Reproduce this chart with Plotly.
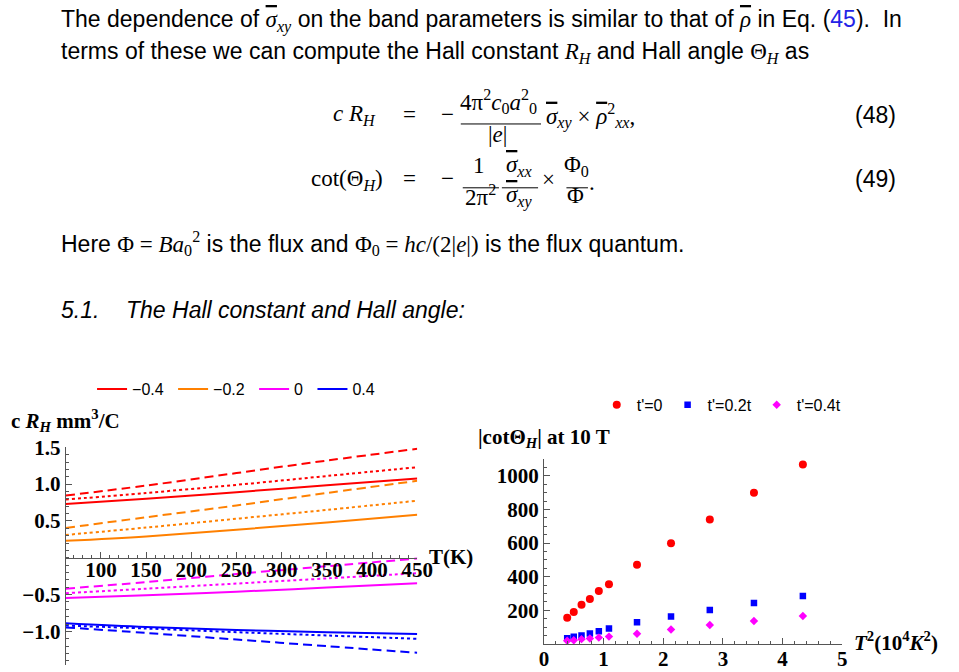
import plotly.graph_objects as go

W, H = 959, 672

# ---------------- data: left panel (c R_H vs T) ----------------
T = [61, 150, 250, 350, 450]
band_labels = ["−0.4", "−0.2", "0", "0.4"]
band_colors = ["#FF0000", "#FF8000", "#FF00FF", "#0000FF"]

red_solid = [0.73, 0.80, 0.89, 0.985, 1.075]
red_dotted = [0.79, 0.88, 0.99, 1.11, 1.23]
red_dashed = [0.845, 0.98, 1.15, 1.32, 1.48]
orange_solid = [0.23, 0.29, 0.38, 0.48, 0.585]
orange_dotted = [0.31, 0.41, 0.53, 0.65, 0.775]
orange_dashed = [0.405, 0.55, 0.71, 0.88, 1.045]
magenta_solid = [-0.545, -0.51, -0.46, -0.405, -0.345]
magenta_dotted = [-0.48, -0.42, -0.35, -0.28, -0.21]
magenta_dashed = [-0.42, -0.33, -0.22, -0.115, -0.01]
blue_solid = [-0.89, -0.94, -0.98, -1.01, -1.035]
blue_dotted = [-0.92, -0.96, -1.01, -1.055, -1.10]
blue_dashed = [-0.945, -1.02, -1.11, -1.20, -1.29]

left_xticks = [100, 150, 200, 250, 300, 350, 400, 450]
left_yticks = [-1.0, -0.5, 0.5, 1.0, 1.5]
left_yticktext = ["−1.0", "−0.5", "0.5", "1.0", "1.5"]

# ---------------- data: right panel (|cot Theta_H| vs T^2) ----------------
T2 = [0.39, 0.50, 0.63, 0.77, 0.92, 1.09, 1.56, 2.13, 2.78, 3.52, 4.34]
cot_t0 = [156, 191, 234, 267, 316, 355, 472, 600, 741, 899, 1068]
cot_t02 = [34, 43, 51, 62, 76, 92, 129, 164, 203, 244, 285]
cot_t04 = [19, 22, 29, 33, 38, 44, 61, 86, 113, 137, 166]
right_labels = ["t'=0", "t'=0.2t", "t'=0.4t"]
right_xticks = [0, 1, 2, 3, 4, 5]
right_yticks = [200, 400, 600, 800, 1000]


def px(x):
    return x / W


def py(y):
    return 1 - y / H


NB = "\u00a0"
fig = go.Figure()

groups = [
    (red_solid, red_dotted, red_dashed),
    (orange_solid, orange_dotted, orange_dashed),
    (magenta_solid, magenta_dotted, magenta_dashed),
    (blue_solid, blue_dotted, blue_dashed),
]
styles = ["solid", "3px,3px", "9px,5px"]
for lab, col, grp in zip(band_labels, band_colors, groups):
    for k, (vals, dash) in enumerate(zip(grp, styles)):
        fig.add_trace(go.Scatter(
            x=T, y=vals, mode="lines", name=lab + NB,
            line=dict(color=col, width=2, dash=dash, shape="spline"),
            showlegend=(k == 0), legend="legend",
            xaxis="x", yaxis="y", hoverinfo="skip"))

fig.add_trace(go.Scatter(x=T2, y=cot_t0, mode="markers", name=right_labels[0],
                         marker=dict(symbol="circle", size=8, color="#FF0000"),
                         xaxis="x2", yaxis="y2", legend="legend2"))
fig.add_trace(go.Scatter(x=T2, y=cot_t02, mode="markers", name=right_labels[1],
                         marker=dict(symbol="square", size=6.5, color="#0000FF"),
                         xaxis="x2", yaxis="y2", legend="legend2"))
fig.add_trace(go.Scatter(x=T2, y=cot_t04, mode="markers", name=right_labels[2],
                         marker=dict(symbol="diamond", size=6.5, color="#FF00FF"),
                         xaxis="x2", yaxis="y2", legend="legend2"))

axcol = "#555555"
tickfont = dict(family="Liberation Serif", size=21, color="black", weight="bold")

# left panel geometry
ly_range = [-1.46, 1.5]
ly_dom = [py(665.2), py(443.2)]
x_pos = ly_dom[0] + (0 - ly_range[0]) / (ly_range[1] - ly_range[0]) * (ly_dom[1] - ly_dom[0])

common = dict(showgrid=False, zeroline=False, showline=True, linecolor=axcol, linewidth=1,
              ticks="inside", tickcolor=axcol, ticklen=6, tickwidth=1, tickfont=tickfont)

fig.update_layout(
    width=W, height=H, margin=dict(l=0, r=0, t=0, b=0),
    paper_bgcolor="white", plot_bgcolor="white",
    xaxis=dict(domain=[px(62), px(421.5)], range=[61, 450], anchor="free", position=x_pos,
               tickvals=left_xticks, ticklabelstandoff=-7,
               minor=dict(ticks="inside", dtick=10, tick0=0, ticklen=3, tickcolor=axcol),
               **common),
    yaxis=dict(domain=ly_dom, range=ly_range, anchor="x",
               tickvals=left_yticks, ticktext=left_yticktext,
               minor=dict(ticks="inside", dtick=0.1, tick0=0, ticklen=3, tickcolor=axcol),
               **common),
    xaxis2=dict(domain=[px(551), px(856)], range=[0, 5], anchor="y2",
                tickvals=right_xticks, ticklabelstandoff=-4,
                minor=dict(ticks="inside", dtick=0.2, tick0=0, ticklen=3, tickcolor=axcol),
                **common),
    yaxis2=dict(domain=[py(643.5), py(455.2)], range=[0, 1100], anchor="x2",
                tickvals=right_yticks,
                minor=dict(ticks="inside", dtick=50, tick0=0, ticklen=3, tickcolor=axcol),
                **common),
    legend=dict(orientation="h", x=px(89), y=py(384), xanchor="left", yanchor="middle",
                font=dict(family="Liberation Sans", size=16, color="black"),
                bgcolor="rgba(0,0,0,0)", itemwidth=30, traceorder="normal"),
    legend2=dict(orientation="h", x=px(605), y=py(400), xanchor="left", yanchor="middle",
                 font=dict(family="Liberation Sans", size=16, color="black"),
                 bgcolor="rgba(0,0,0,0)", itemwidth=30, traceorder="normal"),
    showlegend=True,
)

SANS = "Liberation Sans"
SERIF = "Liberation Serif"
anns = []


def ann(text, x, y, size=23, family=SANS, xanchor="left", color="black"):
    anns.append(dict(text=text, x=px(x), y=py(y), xref="paper", yref="paper",
                     xanchor=xanchor, yanchor="middle", showarrow=False,
                     font=dict(family=family, size=size, color=color)))


M = "<span style='font-family:Liberation Serif'>"
E = "</span>"
OL = "<span style='text-decoration:overline'>"


def bar(s):
    return OL + s + E


ann("The dependence of " + M + "<i>" + bar("σ") + "</i><sub><i>xy</i></sub>" + E +
    " on the band parameters is similar to that of " + M + "<i>" + bar("ρ") + "</i>" + E +
    " in Eq. (<span style='color:#2323e6'>45</span>).  In", 55, 9)
ann("terms of these we can compute the Hall constant " + M + "<i>R</i><sub><i>H</i></sub>" + E +
    " and Hall angle " + M + "Θ<sub><i>H</i></sub>" + E + " as", 55, 41)

MS = 23
# equation (48)
ann("<i>c R</i><sub><i>H</i></sub>", 381, 105, MS, SERIF, "right")
ann("=", 414, 104, MS, SERIF, "center")
ann("−", 452, 104, MS, SERIF, "center")
ann("4π<sup>2</sup><i>c</i><sub>0</sub><i>a</i><sup>2</sup><sub>0</sub>", 505, 91, MS, SERIF, "center")
ann("|<i>e</i>|", 504, 125, MS, SERIF, "center")
ann("<i>" + bar("σ") + "</i><sub><i>xy</i></sub> × <i>" + bar("ρ") + "</i><sup>2</sup><sub><i>xx</i></sub>,",
    551, 106, MS, SERIF, "left")
ann("(48)", 913, 105, 23, SANS, "right")

# equation (49)
ann("cot(Θ<sub><i>H</i></sub>)", 388, 171, MS, SERIF, "right")
ann("=", 414, 170, MS, SERIF, "center")
ann("−", 452, 170, MS, SERIF, "center")
ann("1", 485, 156, MS, SERIF, "center")
ann("2π<sup>2</sup>", 486, 187, MS, SERIF, "center")
ann("<i>" + bar("σ") + "</i><sub><i>xx</i></sub>", 526, 157, MS, SERIF, "center")
ann("<i>" + bar("σ") + "</i><sub><i>xy</i></sub>", 526, 188, MS, SERIF, "center")
ann("×", 556, 171, MS, SERIF, "center")
ann("Φ<sub>0</sub>", 584, 157, MS, SERIF, "center")
ann("Φ", 583, 187, MS, SERIF, "center")
ann(".", 600, 174, MS, SERIF, "center")
ann("(49)", 913, 170, 23, SANS, "right")

ann("Here " + M + "Φ = <i>Ba</i><sub>0</sub><sup>2</sup>" + E + " is the flux and " + M +
    "Φ<sub>0</sub> = <i>hc</i>/(2|<i>e</i>|)" + E + " is the flux quantum.", 55, 236)
ann("<i>5.1.</i>", 55, 303)
ann("<i>The Hall constant and Hall angle:</i>", 122, 303)

# chart labels
ann("<b>c <i>R</i><sub><i>H</i></sub> mm<sup>3</sup>/C</b>", 4, 416, 21, SERIF)
ann("<b>T(K)</b>", 431, 555, 21, SERIF)
ann("<b>|cotΘ<sub><i>H</i></sub>| at 10 T</b>", 482, 434, 21, SERIF)
ann("<b><i>T</i><sup>2</sup>(10<sup>4</sup><i>K</i><sup>2</sup>)</b>", 866, 641, 21, SERIF)

fig.update_layout(annotations=anns)

shapes = []
for (x0, x1, y) in [(466, 548, 114), (468, 505, 179), (508, 545, 179), (574, 596, 179)]:
    shapes.append(dict(type="line", xref="paper", yref="paper", x0=px(x0), x1=px(x1),
                       y0=py(y), y1=py(y), line=dict(color="black", width=1)))
fig.update_layout(shapes=shapes)

fig.write_html("out.html")
